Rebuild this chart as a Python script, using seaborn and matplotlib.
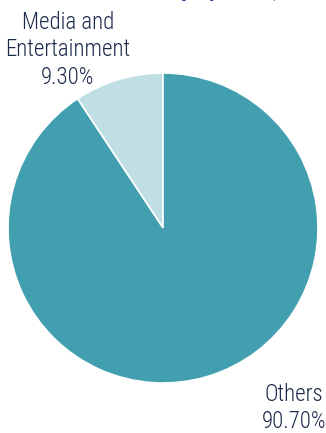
import matplotlib
matplotlib.use("Agg")
import matplotlib.pyplot as plt
import seaborn as sns

sns.set_theme(style="white")
plt.rcParams['font.family'] = ['Roboto Condensed', 'DejaVu Sans']

categories = ["Media and\nEntertainment", "Others"]
values = [9.30, 90.70]
colors = ["#BFDFE5", "#429FB0"]
title_fragment = "Employment ("

fig = plt.figure(figsize=(3.26, 4.33), dpi=100)
ax = fig.add_axes([0, 0, 1, 1])

ax.pie(values, colors=colors, startangle=90, counterclock=True,
       center=(163, 205), radius=155,
       wedgeprops=dict(edgecolor='white', linewidth=1.2))
ax.set_xlim(0, 326)
ax.set_ylim(0, 433)
ax.set_aspect('equal')
ax.axis('off')

tc = "#1C2B4C"
ax.text(68, 383, f"{categories[0]}\n{values[0]:.2f}%", ha='center', va='center',
        fontsize=16.5, color=tc, linespacing=1.25, fontweight='light')
ax.text(294, 25, f"{categories[1]}\n{values[1]:.2f}%", ha='center', va='center',
        fontsize=16.5, color=tc, linespacing=1.25, fontweight='light')

# partially visible title cut at top edge
fig.text(154 / 326, 1 + 4 / 433, title_fragment, ha='left', va='baseline',
         fontsize=16, fontweight='bold', color="#1F3C8C",
         family=['Roboto Condensed', 'DejaVu Sans'])

fig.savefig("out.png", dpi=100)
